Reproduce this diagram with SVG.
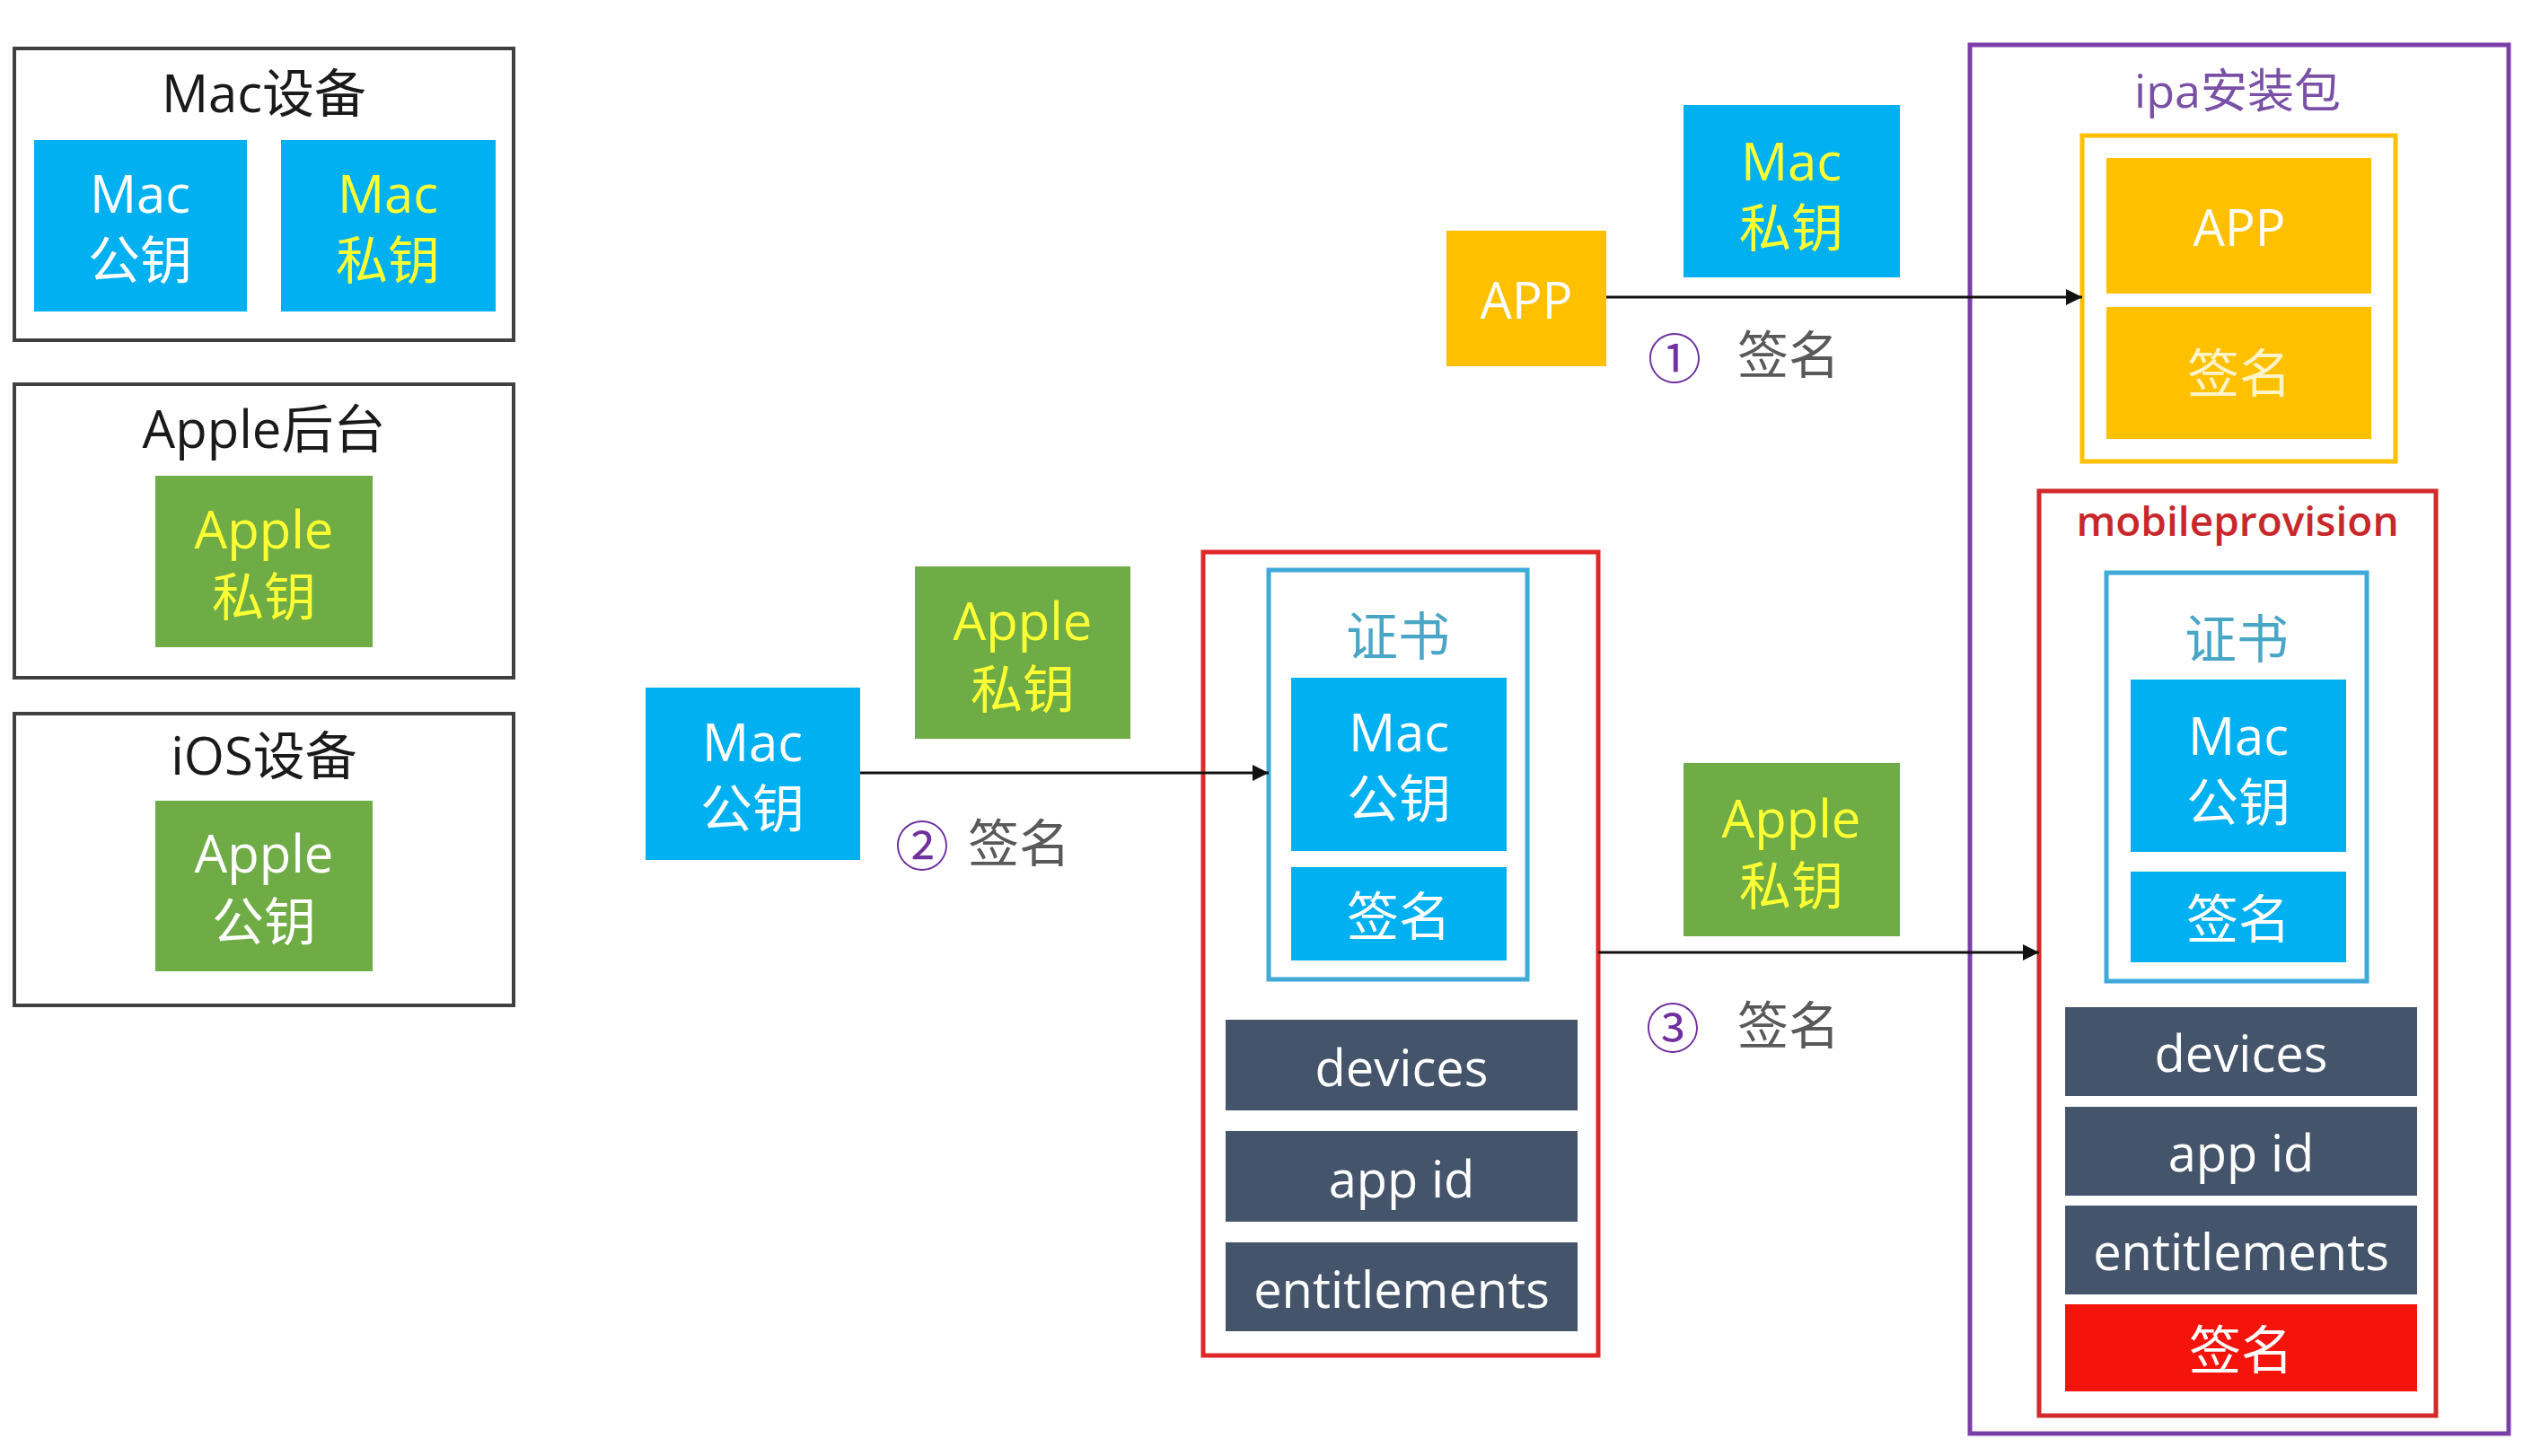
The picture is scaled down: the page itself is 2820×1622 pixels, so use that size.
<svg xmlns="http://www.w3.org/2000/svg" width="2820" height="1622" viewBox="0 0 2820 1622">
<defs>
<style>
text{font-family:"Open Sans","Noto Sans CJK SC",sans-serif;text-anchor:middle;dominant-baseline:central;}
.frame{fill:#fff;stroke:#404040;stroke-width:4}
.blue{fill:#00B0F0}
.green{fill:#6FAC46}
.yel{fill:#FFC000}
.dark{fill:#44546A}
.redf{fill:#F5140C}
.t{font-size:58px}
.w{fill:#fff}
.y{fill:#FFFF33}
.title{font-size:58px;fill:#1a1a1a}
.lbl{font-size:57px;fill:#595959}
.num{font-size:60px;fill:#7030A0}
.conn{stroke:#111;stroke-width:3;fill:none;marker-end:url(#ah)}
</style>
<marker id="ah" viewBox="0 0 10 10" refX="10" refY="5" markerWidth="20" markerHeight="18" markerUnits="userSpaceOnUse" orient="auto">
<path d="M0,0L10,5L0,10z" fill="#111"/>
</marker>
</defs>
<rect width="2820" height="1622" fill="#fff"/>

<g id="mac-device">
<rect class="frame" x="16" y="54" width="556" height="325"/>
<text class="title" x="294" y="102">Mac设备</text>
<rect class="blue" x="38" y="156" width="237" height="191"/>
<text class="t w" x="156" y="214">Mac</text>
<text class="t w" x="156" y="288">公钥</text>
<rect class="blue" x="313" y="156" width="239" height="191"/>
<text class="t y" x="432" y="214">Mac</text>
<text class="t y" x="432" y="288">私钥</text>
</g>

<g id="apple-backend">
<rect class="frame" x="16" y="428" width="556" height="327"/>
<text class="title" x="294" y="476">Apple后台</text>
<rect class="green" x="173" y="530" width="242" height="191"/>
<text class="t y" x="294" y="588">Apple</text>
<text class="t y" x="294" y="663">私钥</text>
</g>

<g id="ios-device">
<rect class="frame" x="16" y="795" width="556" height="325"/>
<text class="title" x="294" y="840">iOS设备</text>
<rect class="green" x="173" y="892" width="242" height="190"/>
<text class="t w" x="294" y="949">Apple</text>
<text class="t w" x="294" y="1025">公钥</text>
</g>

<g id="mac-pubkey">
<rect class="blue" x="719" y="766" width="239" height="192"/>
<text class="t w" x="838" y="825">Mac</text>
<text class="t w" x="838" y="899">公钥</text>
</g>

<g id="apple-privkey-mid">
<rect class="green" x="1019" y="631" width="240" height="192"/>
<text class="t y" x="1139" y="690">Apple</text>
<text class="t y" x="1139" y="766">私钥</text>
</g>

<g id="profile">
<rect x="1340" y="615" width="440" height="895" fill="none" stroke="#E02828" stroke-width="5"/>
<rect x="1413" y="635" width="288" height="456" fill="none" stroke="#3FA9D8" stroke-width="5"/>
<text x="1557" y="707" style="font-size:58px;fill:#4AA6C6">证书</text>
<rect class="blue" x="1438" y="755" width="240" height="193"/>
<text class="t w" x="1558" y="814">Mac</text>
<text class="t w" x="1558" y="888">公钥</text>
<rect class="blue" x="1438" y="966" width="240" height="104"/>
<text class="t w" x="1558" y="1019">签名</text>
<rect class="dark" x="1365" y="1136" width="392" height="101"/>
<text class="t w" x="1561" y="1188" style="font-size:56px">devices</text>
<rect class="dark" x="1365" y="1260" width="392" height="101"/>
<text class="t w" x="1561" y="1312" style="font-size:56px">app id</text>
<rect class="dark" x="1365" y="1384" width="392" height="99"/>
<text class="t w" x="1561" y="1435" style="font-size:56px">entitlements</text>
</g>

<g id="app">
<rect class="yel" x="1611" y="257" width="178" height="151"/>
<text class="t w" x="1700" y="333" style="font-size:56px">APP</text>
</g>

<g id="mac-privkey-top">
<rect class="blue" x="1875" y="117" width="241" height="192"/>
<text class="t y" x="1995" y="178">Mac</text>
<text class="t y" x="1995" y="252">私钥</text>
</g>

<g id="apple-privkey-right">
<rect class="green" x="1875" y="850" width="241" height="193"/>
<text class="t y" x="1995" y="910">Apple</text>
<text class="t y" x="1995" y="985">私钥</text>
</g>

<g id="ipa">
<rect x="2194" y="50" width="600" height="1547" fill="none" stroke="#7A3FA8" stroke-width="5"/>
<text x="2492" y="99" style="font-size:52px;fill:#7A4FA6">ipa安装包</text>
<rect x="2319" y="151" width="349" height="363" fill="none" stroke="#FFC000" stroke-width="5"/>
<rect class="yel" x="2346" y="176" width="295" height="151"/>
<text class="t w" x="2494" y="252" style="font-size:56px">APP</text>
<rect class="yel" x="2346" y="342" width="295" height="147"/>
<text class="t" x="2494" y="414" style="fill:#FFF3C8">签名</text>
</g>

<g id="mobileprovision">
<rect x="2271" y="547" width="442" height="1030" fill="none" stroke="#D02A2A" stroke-width="5"/>
<text x="2492" y="579" style="font-size:46px;font-weight:600;fill:#C8282C">mobileprovision</text>
<rect x="2346" y="638" width="290" height="455" fill="none" stroke="#3FA9D8" stroke-width="5"/>
<text x="2491" y="710" style="font-size:58px;fill:#4AA6C6">证书</text>
<rect class="blue" x="2373" y="757" width="240" height="192"/>
<text class="t w" x="2493" y="818">Mac</text>
<text class="t w" x="2493" y="892">公钥</text>
<rect class="blue" x="2373" y="971" width="240" height="101"/>
<text class="t w" x="2493" y="1022">签名</text>
<rect class="dark" x="2300" y="1122" width="392" height="99"/>
<text class="t w" x="2496" y="1172" style="font-size:56px">devices</text>
<rect class="dark" x="2300" y="1233" width="392" height="99"/>
<text class="t w" x="2496" y="1283" style="font-size:56px">app id</text>
<rect class="dark" x="2300" y="1343" width="392" height="99"/>
<text class="t w" x="2496" y="1393" style="font-size:56px">entitlements</text>
<rect class="redf" x="2300" y="1453" width="392" height="97"/>
<text class="t w" x="2496" y="1502">签名</text>
</g>

<g id="connectors">
<line class="conn" x1="1789" y1="331" x2="2319" y2="331"/>
<line class="conn" x1="958" y1="861" x2="1413" y2="861"/>
<line class="conn" x1="1780" y1="1061" x2="2271" y2="1061"/>
<text class="num" x="1865" y="399">①</text>
<text class="lbl" x="1992" y="394">签名</text>
<text class="num" x="1027" y="942">②</text>
<text class="lbl" x="1135" y="938">签名</text>
<text class="num" x="1863" y="1145">③</text>
<text class="lbl" x="1992" y="1141">签名</text>
</g>
</svg>
